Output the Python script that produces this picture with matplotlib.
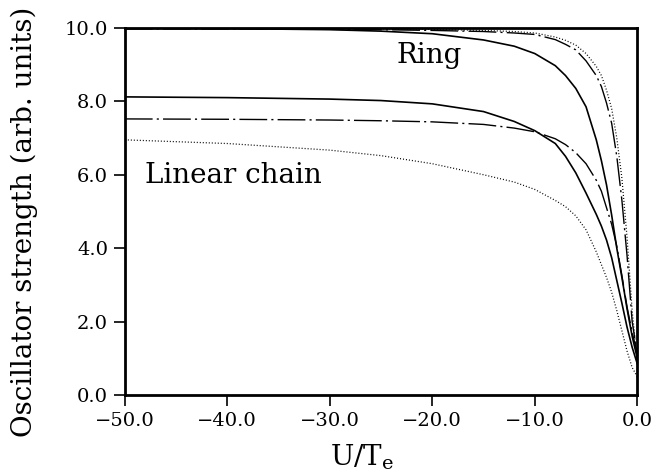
import matplotlib
matplotlib.use("Agg")
import matplotlib.pyplot as plt

plt.rcParams['font.family'] = ['DejaVu Serif']
plt.rcParams['mathtext.fontset'] = 'dejavuserif'

# U/Te grid
u = [-50, -40, -30, -25, -20, -15, -12, -10, -8, -7, -6, -5, -4, -3.5, -3,
     -2.5, -2, -1.5, -1, -0.5, 0]

# ring curves
ring_dotted = [9.99, 9.99, 9.98, 9.97, 9.96, 9.93, 9.90, 9.86, 9.75, 9.66, 9.53,
               9.30, 8.95, 8.70, 8.30, 7.80, 7.00, 5.90, 4.30, 2.30, 0.90]
ring_dashdot = [9.97, 9.97, 9.96, 9.95, 9.93, 9.90, 9.86, 9.82, 9.68, 9.55, 9.40,
                9.10, 8.70, 8.40, 7.95, 7.40, 6.50, 5.30, 3.80, 2.00, 1.10]
ring_solid = [10.0, 9.98, 9.95, 9.91, 9.84, 9.67, 9.50, 9.30, 8.97, 8.70, 8.35,
              7.85, 6.95, 6.38, 5.72, 4.90, 4.00, 3.20, 2.35, 1.60, 1.00]

# linear chain curves
lin_solid = [8.12, 8.10, 8.06, 8.02, 7.93, 7.72, 7.45, 7.20, 6.85, 6.50, 6.05,
             5.50, 4.92, 4.60, 4.22, 3.74, 3.12, 2.50, 1.85, 1.30, 0.85]
lin_dashdot = [7.52, 7.51, 7.49, 7.47, 7.44, 7.37, 7.27, 7.17, 6.98, 6.82, 6.60,
               6.30, 5.85, 5.55, 5.10, 4.65, 4.05, 3.25, 2.40, 1.70, 1.15]
lin_dotted = [6.95, 6.85, 6.67, 6.52, 6.30, 6.00, 5.80, 5.60, 5.30, 5.13, 4.88,
              4.50, 3.90, 3.55, 3.20, 2.80, 2.30, 1.75, 1.20, 0.75, 0.50]

xticks = [-50, -40, -30, -20, -10, 0]
yticks = [0, 2, 4, 6, 8, 10]

fig = plt.figure(figsize=(6.57, 4.72), dpi=100)
ax = fig.add_axes([0.190, 0.163, 0.780, 0.778])

dashdot = (0, (20, 3, 1.5, 3))
dotted = (0, (0.8, 1.6))

ax.plot(u, ring_dotted, color='k', lw=0.9, linestyle=dotted)
ax.plot(u, ring_dashdot, color='k', lw=1.0, linestyle=dashdot)
ax.plot(u, ring_solid, color='k', lw=1.2)
ax.plot(u, lin_solid, color='k', lw=1.2)
ax.plot(u, lin_dashdot, color='k', lw=1.0, linestyle=dashdot)
ax.plot(u, lin_dotted, color='k', lw=0.9, linestyle=dotted)

ax.text(-23.5, 9.05, "Ring", fontsize=20, va='baseline', ha='left')
ax.text(-48.0, 5.78, "Linear chain", fontsize=20, va='baseline', ha='left')

ax.set_xlim(-50, 0)
ax.set_ylim(0, 10)
ax.set_xticks(xticks)
ax.set_xticklabels(["\u2212%.1f" % abs(t) if t < 0 else "%.1f" % t for t in xticks])
ax.set_yticks(yticks)
ax.set_yticklabels(["%.1f" % t for t in yticks])
ax.tick_params(direction='out', length=8, width=1.2, labelsize=14, pad=4)

for s in ax.spines.values():
    s.set_linewidth(2)

ax.set_xlabel(r"U/T$_\mathrm{e}$", fontsize=20)
ax.xaxis.set_label_coords(0.463, -0.128)
ax.set_ylabel("Oscillator strength (arb. units)", fontsize=20)
ax.yaxis.set_label_coords(-0.17, 0.471)

fig.savefig("out.png", dpi=100)
